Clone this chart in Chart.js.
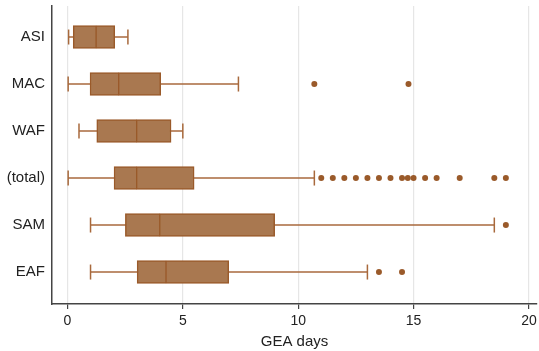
<!DOCTYPE html>
<html lang="en">
<head>
    <meta charset="UTF-8">
    <title>GEA days by region</title>
    <script src="https://cdn.jsdelivr.net/npm/chart.js"></script>
    <style>
        html, body {
            margin: 0;
            padding: 0;
            background: #fff;
        }
        #wrap {
            width: 539px;
            height: 351px;
        }
    </style>
</head>
<body>
    <div id="wrap"><canvas id="boxChart"></canvas></div>

    <script>
        // box plot values
        const categories = ['ASI', 'MAC', 'WAF', '(total)', 'SAM', 'EAF'];
        const whiskerLow = [0.05, 0.03, 0.5, 0.03, 1.0, 1.0];
        const q1 = [0.25, 0.98, 1.27, 2.02, 2.51, 3.02];
        const medians = [1.24, 2.22, 3.0, 3.0, 4.0, 4.27];
        const q3 = [2.05, 4.04, 4.49, 5.49, 8.98, 6.99];
        const whiskerHigh = [2.62, 7.41, 5.0, 10.7, 18.5, 13.0];
        const outliers = [
            [],
            [10.7, 14.78],
            [],
            [11, 11.5, 12, 12.5, 13, 13.5, 14, 14.5, 14.75, 15, 15.5, 16, 17, 18.5, 19],
            [19],
            [13.5, 14.5]
        ];
        const xTicks = [0, 5, 10, 15, 20];

        const fillColor = '#a97850';
        const edgeColor = '#9a5a2a';
        const lineColor = '#a8693c';
        const fontFamily = "'Liberation Sans', Arial, sans-serif";

        const datasets = [];

        // lower and upper halves of each box, meeting at the median
        datasets.push({
            type: 'bar',
            indexAxis: 'y',
            data: categories.map((c, i) => ({ x: [q1[i], medians[i]], y: i + 1 })),
            backgroundColor: fillColor,
            borderColor: edgeColor,
            borderWidth: { top: 1.5, bottom: 1.5, left: 1.5, right: 1 },
            borderSkipped: false,
            barThickness: 23,
            grouped: false,
            order: 1
        });
        datasets.push({
            type: 'bar',
            indexAxis: 'y',
            data: categories.map((c, i) => ({ x: [medians[i], q3[i]], y: i + 1 })),
            backgroundColor: fillColor,
            borderColor: edgeColor,
            borderWidth: { top: 1.5, bottom: 1.5, left: 1, right: 1.5 },
            borderSkipped: false,
            barThickness: 23,
            grouped: false,
            order: 1
        });

        // whiskers with end caps, drawn behind the boxes
        categories.forEach((c, i) => {
            datasets.push({
                type: 'line',
                data: [{ x: whiskerLow[i], y: i + 1 }, { x: whiskerHigh[i], y: i + 1 }],
                borderColor: lineColor,
                borderWidth: 1.5,
                pointStyle: 'line',
                rotation: 90,
                pointRadius: 7.5,
                pointBorderColor: lineColor,
                pointBorderWidth: 1.5,
                fill: false,
                order: 3
            });
        });

        // outside values
        const outlierPoints = [];
        outliers.forEach((list, i) => list.forEach(v => outlierPoints.push({ x: v, y: i + 1 })));
        datasets.push({
            type: 'scatter',
            data: outlierPoints,
            backgroundColor: edgeColor,
            borderColor: edgeColor,
            borderWidth: 0,
            pointRadius: 3,
            order: 0
        });

        new Chart(document.getElementById('boxChart').getContext('2d'), {
            type: 'bar',
            data: { datasets: datasets },
            options: {
                responsive: true,
                maintainAspectRatio: false,
                animation: false,
                layout: {
                    autoPadding: false,
                    padding: { top: 6, right: 2, left: 0, bottom: 0 }
                },
                plugins: {
                    legend: { display: false },
                    tooltip: { enabled: false }
                },
                scales: {
                    x: {
                        type: 'linear',
                        position: 'bottom',
                        offset: false,
                        min: -0.67,
                        max: 20.35,
                        afterBuildTicks: s => { s.ticks = xTicks.map(v => ({ value: v })); },
                        afterFit: s => {
                            s.height = 47;
                            s.paddingLeft = 0;
                            s.paddingRight = 0;
                        },
                        grid: {
                            offset: false,
                            color: '#e6e6e6',
                            lineWidth: 1.2,
                            borderDash: [7, 6],
                            tickColor: '#444',
                            tickBorderDash: [],
                            tickLength: 5,
                            tickWidth: 1.2
                        },
                        border: { display: true, color: '#444', width: 1.5 },
                        ticks: { color: '#222', font: { family: fontFamily, size: 14 }, padding: 4, maxRotation: 0 },
                        title: {
                            display: true,
                            text: 'GEA days',
                            color: '#222',
                            font: { family: fontFamily, size: 15 },
                            padding: { top: 0, bottom: 0 }
                        }
                    },
                    y: {
                        type: 'linear',
                        position: 'left',
                        reverse: true,
                        offset: false,
                        min: 0.34,
                        max: 6.68,
                        afterBuildTicks: s => { s.ticks = categories.map((c, i) => ({ value: i + 1 })); },
                        afterFit: s => {
                            s.width = 52;
                            s.paddingTop = 0;
                            s.paddingBottom = 0;
                        },
                        grid: { display: false, drawTicks: false, offset: false },
                        border: { display: true, color: '#444', width: 1.5 },
                        ticks: {
                            color: '#222',
                            font: { family: fontFamily, size: 15 },
                            padding: 7,
                            callback: v => categories[v - 1]
                        }
                    }
                }
            }
        });
    </script>
</body>
</html>
